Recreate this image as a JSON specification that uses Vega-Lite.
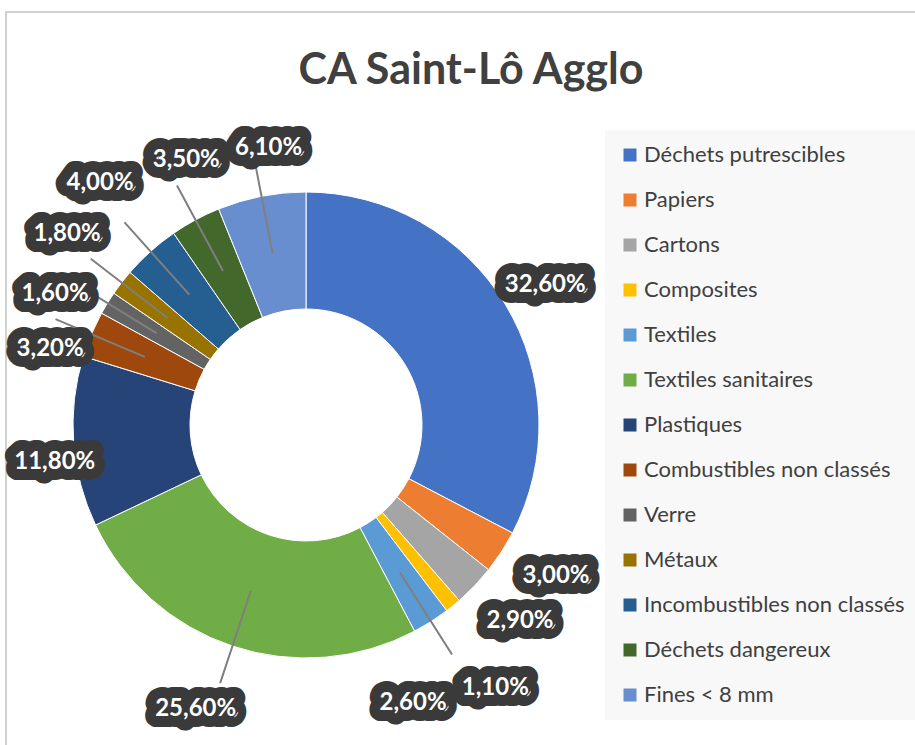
{
  "$schema": "https://vega.github.io/schema/vega-lite/v6.json",
  "width": 930,
  "height": 760,
  "autosize": "none",
  "padding": {"left": 6, "top": 12, "right": 0, "bottom": 0},
  "background": "white",
  "view": {"stroke": "#D0D0D0", "strokeWidth": 2, "fill": "white"},
  "title": {
    "text": "CA Saint-Lô Agglo",
    "font": "Lato",
    "fontSize": 43,
    "fontWeight": "bold",
    "color": "#404040",
    "anchor": "middle",
    "baseline": "bottom",
    "offset": 0,
    "dy": 124
  },
  "config": {
    "view": {"stroke": "#D0D0D0", "strokeWidth": 2},
    "locale": {
      "number": {"decimal": ",", "thousands": " ", "grouping": [3], "currency": ["", " €"]}
    }
  },
  "data": {
    "values": [
      {"rang": 1, "cat": "Déchets putrescibles", "pct": 0.326},
      {"rang": 2, "cat": "Papiers", "pct": 0.030},
      {"rang": 3, "cat": "Cartons", "pct": 0.029},
      {"rang": 4, "cat": "Composites", "pct": 0.011},
      {"rang": 5, "cat": "Textiles", "pct": 0.026},
      {"rang": 6, "cat": "Textiles sanitaires", "pct": 0.256},
      {"rang": 7, "cat": "Plastiques", "pct": 0.118},
      {"rang": 8, "cat": "Combustibles non classés", "pct": 0.032},
      {"rang": 9, "cat": "Verre", "pct": 0.016},
      {"rang": 10, "cat": "Métaux", "pct": 0.018},
      {"rang": 11, "cat": "Incombustibles non classés", "pct": 0.040},
      {"rang": 12, "cat": "Déchets dangereux", "pct": 0.035},
      {"rang": 13, "cat": "Fines < 8 mm", "pct": 0.061}
    ]
  },
  "encoding": {
    "theta": {"field": "pct", "type": "quantitative", "stack": true},
    "order": {"field": "rang", "type": "quantitative"}
  },
  "layer": [
    {
      "mark": {"type": "arc", "x": 300, "y": 413, "radius": 233, "radius2": 116, "stroke": "white", "strokeWidth": 1},
      "encoding": {
        "color": {
          "field": "cat",
          "type": "nominal",
          "sort": null,
          "scale": {
            "domain": ["Déchets putrescibles", "Papiers", "Cartons", "Composites", "Textiles", "Textiles sanitaires", "Plastiques", "Combustibles non classés", "Verre", "Métaux", "Incombustibles non classés", "Déchets dangereux", "Fines < 8 mm"],
            "range": ["#4472C4", "#ED7D31", "#A5A5A5", "#FFC000", "#5B9BD5", "#70AD47", "#264478", "#9E480E", "#636363", "#997300", "#255E91", "#43682B", "#698ED0"]
          },
          "legend": {
            "title": null,
            "orient": "none",
            "legendX": 599,
            "legendY": 118,
            "padding": 14,
            "fillColor": "#F8F8F8",
            "symbolType": "square",
            "symbolSize": 169,
            "symbolStrokeWidth": 0,
            "labelFont": "Lato",
            "labelFontSize": 22,
            "labelColor": "#404040",
            "labelLimit": 320,
            "labelOffset": 3,
            "rowPadding": 23
          }
        }
      }
    },
    {
      "mark": {"type": "arc", "x": 300, "y": 413, "radius": 272, "radius2": 175, "padAngle": 3, "filled": false, "stroke": "#7F7F7F", "strokeWidth": 2},
      "encoding": {
        "strokeOpacity": {
          "condition": {"test": "indexof(['Textiles', 'Textiles sanitaires', 'Combustibles non classés', 'Verre', 'Métaux', 'Incombustibles non classés', 'Déchets dangereux', 'Fines < 8 mm'], datum.cat) >= 0", "value": 1},
          "value": 0
        }
      }
    },
    {
      "mark": {
        "type": "text", "x": 300, "y": 413,
        "radius": {"expr": "[277, 292, 290, 324, 298, 305, 254, 267, 283, 306, 318, 291, 280][datum.rang - 1]"},
        "thetaOffset": {"expr": "[0.016, -0.033, -0.021, 0.059, 0.199, 0.049, -0.075, -0.110, -0.070, 0.017, 0.026, 0.070, 0.058][datum.rang - 1]"},
        "font": "Lato", "fontSize": 24, "fontWeight": "bold",
        "fill": "#3A3A3A", "stroke": "#3A3A3A", "strokeWidth": 22, "strokeJoin": "round",
        "align": "center", "baseline": "middle"
      },
      "encoding": {"text": {"field": "pct", "type": "quantitative", "format": ".2%"}}
    },
    {
      "mark": {
        "type": "text", "x": 300, "y": 413,
        "radius": {"expr": "[277, 292, 290, 324, 298, 305, 254, 267, 283, 306, 318, 291, 280][datum.rang - 1]"},
        "thetaOffset": {"expr": "[0.016, -0.033, -0.021, 0.059, 0.199, 0.049, -0.075, -0.110, -0.070, 0.017, 0.026, 0.070, 0.058][datum.rang - 1]"},
        "font": "Lato", "fontSize": 24, "fontWeight": "bold",
        "fill": "white",
        "align": "center", "baseline": "middle"
      },
      "encoding": {"text": {"field": "pct", "type": "quantitative", "format": ".2%"}}
    }
  ]
}
